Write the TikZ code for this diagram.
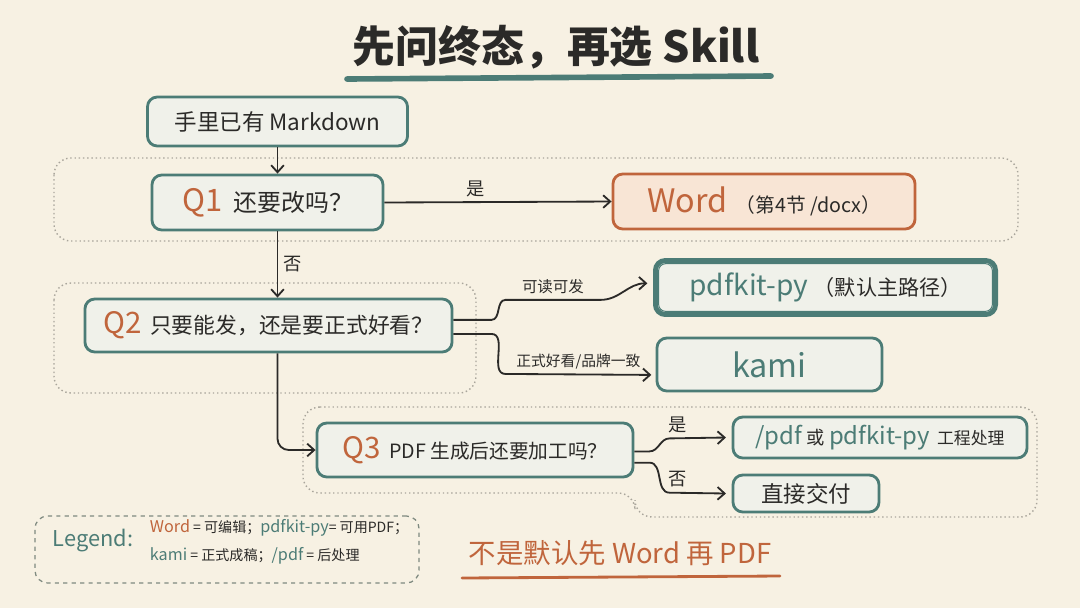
\documentclass[tikz,border=0pt]{standalone}
\usepackage{fontspec}
\setmainfont{Noto Sans CJK SC}
\usetikzlibrary{arrows.meta}
\definecolor{paper}{HTML}{F7F1E3}
\definecolor{tealc}{HTML}{4C7C76}
\definecolor{rust}{HTML}{C0653C}
\definecolor{ink}{HTML}{2B2A28}
\definecolor{boxfill}{HTML}{F0F1EA}
\definecolor{peach}{HTML}{F8E5D5}
\definecolor{dots}{HTML}{A9A59B}
\definecolor{legc}{HTML}{7F8A80}
\newcommand{\fsz}[1]{\fontsize{#1}{#1}\selectfont}

\begin{document}
\begin{tikzpicture}[x=0.025cm,y=-0.025cm,
  qbox/.style={draw=tealc,line width=2pt,fill=boxfill,rounded corners=7pt,text=ink,inner sep=0pt},
  group/.style={draw=dots,line width=1pt,dotted,rounded corners=12pt},
  arr/.style={draw=ink,line width=1.3pt,-{Straight Barb[length=5pt,width=9pt]}},
  lbl/.style={text=ink,font=\fsz{11}}]
\fill[paper] (0,0) rectangle (1080,608);
\useasboundingbox (0,0) rectangle (1080,608);
\draw[group] (54,158) rectangle (1018,241);
\draw[group] (54,283) rectangle (476,393);
\draw[group] (303,407) -- (1037,407) -- (1037,517) -- (635,517) -- (635,493) -- (303,493) -- cycle;

\node[text=ink,font=\bfseries\fsz{30.5}] (title) at (556,47) {先问终态，再选 Skill};
\draw[tealc,line width=4pt,line cap=round] (347,79) -- (771,76);

\node[qbox,minimum width=6.5cm,minimum height=1.225cm,font=\fsz{16}] (md) at (277.5,121.5) {手里已有 Markdown};
\node[qbox,minimum width=5.775cm,minimum height=1.375cm,font=\fsz{17}] (q1) at (267.5,202.5) {\textcolor{rust}{\fsz{22}Q1}\hspace{8pt}还要改吗？};
\node[qbox,draw=rust,fill=peach,minimum width=7.55cm,minimum height=1.375cm] (word) at (764,201.5) {\textcolor{rust}{\fsz{23}Word}\hspace{6pt}{\fsz{14}（第4节 /docx）}};
\node[qbox,minimum width=9.175cm,minimum height=1.325cm,font=\fsz{15.5}] (q2) at (268.5,325.5) {\textcolor{rust}{\fsz{21}Q2}\hspace{6pt}只要能发，还是要正式好看？};
\node[qbox,line width=3.5pt,minimum width=8.5cm,minimum height=1.35cm] (pdfkit) at (825.5,287.5) {\textcolor{tealc}{\fsz{20}pdfkit-py}\hspace{4pt}{\fsz{15}（默认主路径）}};
\draw[tealc,line width=0.7pt,rounded corners=5pt] ([shift={(4pt,4pt)}]pdfkit.south west) rectangle ([shift={(-4pt,-4pt)}]pdfkit.north east);
\node[qbox,minimum width=5.625cm,minimum height=1.325cm] (kami) at (769.5,364.5) {\textcolor{tealc}{\fsz{23}kami}};
\node[qbox,minimum width=7.9cm,minimum height=1.35cm,font=\fsz{14}] (q3) at (475,450) {\textcolor{rust}{\fsz{21}Q3}\hspace{6pt}PDF 生成后还要加工吗？};
\node[qbox,minimum width=7.35cm,minimum height=1.025cm] (post) at (880,437.5) {\textcolor{tealc}{\fsz{17}/pdf}\hspace{3pt}{\fsz{13}或}\hspace{3pt}\textcolor{tealc}{\fsz{17}pdfkit-py}\hspace{5pt}{\fsz{12}工程处理}};
\node[qbox,minimum width=3.65cm,minimum height=0.925cm,font=\fsz{16}] (deliver) at (806,493.5) {直接交付};

\node[draw=legc,dashed,line width=0.9pt,rounded corners=9pt,minimum width=9.6cm,minimum height=1.675cm] (legend) at (227,549.5) {};
\node[anchor=west,text=tealc,font=\fsz{15.5}] (legtitle) at (48,541) {Legend:};
\node[anchor=west,text=ink,font=\fsz{10}] (leg1) at (145,528) {\textcolor{rust}{\fsz{11.5}Word} = 可编辑；\textcolor{tealc}{\fsz{11.5}pdfkit-py}= 可用PDF；};
\node[anchor=west,text=ink,font=\fsz{10}] (leg2) at (145,556) {\textcolor{tealc}{\fsz{11.5}kami} = 正式成稿；\textcolor{tealc}{\fsz{11.5}/pdf} = 后处理};

\node[text=rust,font=\fsz{19.5}] (note) at (620,553) {不是默认先 Word 再 PDF};
\draw[rust,line width=2pt,line cap=round] (462,578) -- (780,576);

\draw[arr] (md.south) -- (md.south |- q1.north);
\draw[arr] (q1.east) -- node[lbl,above,pos=0.4,font=\fsz{13}]{是} (word.west);
\draw[arr] (md.south |- q1.south) -- node[lbl,right,font=\fsz{13}]{否} (md.south |- q2.north);
\draw[arr] ([yshift=4pt]q2.east) -- ++(38,0) to[out=0,in=180] ++(14,-20) -- node[lbl,above]{可读可发} ++(95,0) to[out=0,in=180] ([shift={(-4pt,3pt)}]pdfkit.west);
\draw[arr] ([yshift=-6pt]q2.east) -- ++(38,0) to[out=0,in=180] ++(14,40) -- node[lbl,above,font=\fsz{10.5}]{正式好看/品牌一致} ([shift={(-3pt,-7.4pt)}]kami.west);
\draw[arr,rounded corners=8pt] (md.south |- q2.south) |- (q3.west);
\draw[arr] ([yshift=-1pt]q3.east) -- ++(15,0) to[out=0,in=180] ++(20,-13) -- node[lbl,above,pos=0.15,font=\fsz{13}]{是} ([xshift=-4pt]post.west);
\draw[arr] ([yshift=-9pt]q3.east) -- ++(15,0) to[out=0,in=180] ++(20,30) -- node[lbl,above,pos=0.15,font=\fsz{13}]{否} ([xshift=-4pt]deliver.west);
\end{tikzpicture}
\end{document}
